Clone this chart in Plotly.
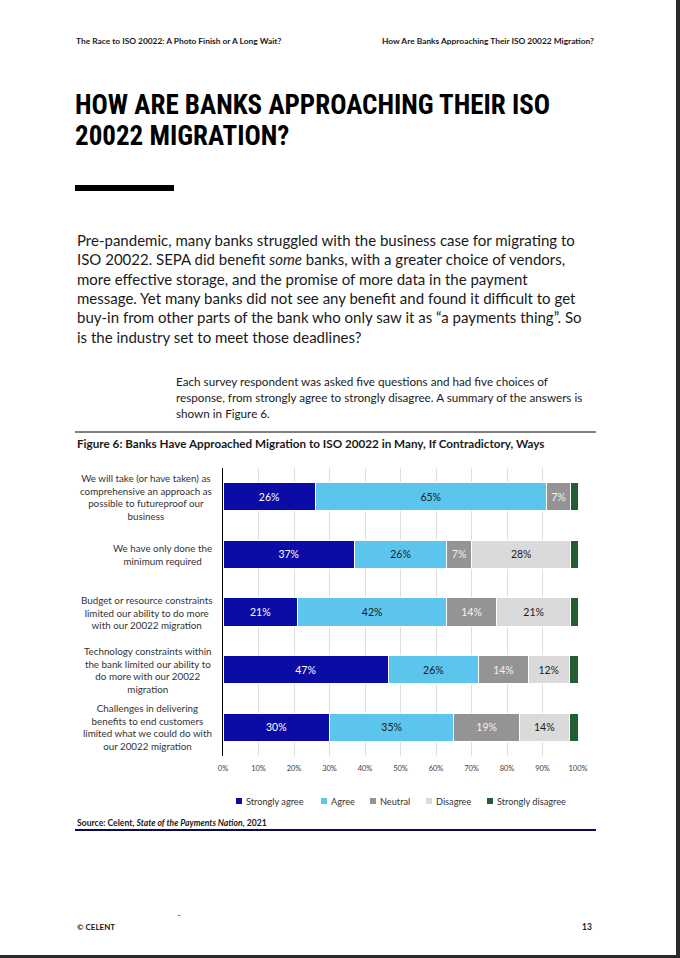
import plotly.graph_objects as go

# ---------------- data ----------------
categories = [
    "We will take (or have taken) as<br>comprehensive an approach as<br>possible to futureproof our<br>business",
    "We have only done the<br>minimum required",
    "Budget or resource constraints<br>limited our ability to do more<br>with our 20022 migration",
    "Technology constraints within<br>the bank limited our ability to<br>do more with our 20022<br>migration",
    "Challenges in delivering<br>benefits to end customers<br>limited what we could do with<br>our 20022 migration",
]
strongly_agree = [26, 37, 21, 46.5, 30]
agree = [65, 26, 42, 25.5, 35]
neutral = [7, 7, 14, 14, 18.5]
disagree = [0, 28, 21, 11.5, 14]
strongly_disagree = [2, 2, 2, 2.5, 2.5]

series_names = ["Strongly agree", "Agree", "Neutral", "Disagree", "Strongly disagree"]
series_values = [strongly_agree, agree, neutral, disagree, strongly_disagree]
series_colors = ["#0b0ba6", "#5bc5ee", "#949494", "#dadada", "#245c34"]
label_colors = ["#ffffff", "#1a1a1a", "#f2f2f2", "#1a1a1a", None]

x_tickvals = list(range(0, 101, 10))
x_ticktext = [f"{v}%" for v in x_tickvals]

header_left = "The Race to ISO 20022: A Photo Finish or A Long Wait?"
header_right = "How Are Banks Approaching Their ISO 20022 Migration?"
title_lines = ["HOW ARE BANKS APPROACHING THEIR ISO", "20022 MIGRATION?"]
para_lines = [
    "Pre-pandemic, many banks struggled with the business case for migrating to",
    "ISO 20022. SEPA did benefit <i>some</i> banks, with a greater choice of vendors,",
    "more effective storage, and the promise of more data in the payment",
    "message. Yet many banks did not see any benefit and found it difficult to get",
    "buy-in from other parts of the bank who only saw it as \u201ca payments thing\u201d. So",
    "is the industry set to meet those deadlines?",
]
intro_lines = [
    "Each survey respondent was asked five questions and had five choices of",
    "response, from strongly agree to strongly disagree. A summary of the answers is",
    "shown in Figure 6.",
]
fig_title = "Figure 6: Banks Have Approached Migration to ISO 20022 in Many, If Contradictory, Ways"
source_text = "Source: Celent, <i>State of the Payments Nation</i>, 2021"

# ---------------- geometry helpers (page pixels) ----------------
W, H = 680, 958
PLOT_X0, PLOT_X1, PLOT_Y0, PLOT_Y1 = 223, 578, 468, 756
L, R, T, B = PLOT_X0, W - PLOT_X1, PLOT_Y0, H - PLOT_Y1
PW, PH = W - L - R, H - T - B


def px(x):
    return (x - L) / PW


def py(y):
    return (H - B - y) / PH


BODY = "Lato, 'Open Sans', sans-serif"
TITLE_FONT = "'Roboto Condensed', 'Liberation Sans', sans-serif"

fig = go.Figure()

for name, vals, col, lc in zip(series_names, series_values, series_colors, label_colors):
    if lc is None:
        tt = ["" for _ in vals]
    else:
        tt = ["%{x:.0f}%" if v > 0 else "" for v in vals]
    fig.add_trace(go.Bar(
        y=categories, x=vals, name=name, orientation="h",
        marker=dict(color=col, line=dict(color="#ffffff", width=1)),
        texttemplate=tt, textposition="inside", insidetextanchor="middle",
        textangle=0, constraintext="none",
        textfont=dict(family=BODY, size=10.5, color=lc or "#ffffff"),
        showlegend=False, hoverinfo="name+x",
    ))

annotations = []
shapes = []


def txt(x, y, s, size, color="#1a1a1a", family=BODY, xanchor="left", yanchor="middle", align="left"):
    annotations.append(dict(
        x=px(x), y=py(y), xref="paper", yref="paper", text=s, showarrow=False,
        xanchor=xanchor, yanchor=yanchor, align=align,
        font=dict(family=family, size=size, color=color),
    ))


# header
txt(74, 41, f"<b>{header_left}</b>", 8.4)
txt(596, 41, f"<b>{header_right}</b>", 8.4, xanchor="right")

# title
for i, line in enumerate(title_lines):
    txt(73, 105 + i * 31, f"<b>{line}</b>", 27, color="#000000", family=TITLE_FONT)

# black rule
shapes.append(dict(type="rect", xref="paper", yref="paper", x0=px(75), x1=px(174),
                   y0=py(191), y1=py(185), fillcolor="#000000", line=dict(width=0)))

# paragraph
for i, line in enumerate(para_lines):
    txt(75, 240 + i * 19.3, line, 15)

# intro text
for i, line in enumerate(intro_lines):
    txt(174, 381 + i * 16, line, 11.7)

# line above figure title
shapes.append(dict(type="line", xref="paper", yref="paper", x0=px(75), x1=px(596),
                   y0=py(432), y1=py(432), line=dict(color="#000000", width=1)))
txt(75, 443, f"<b>{fig_title}</b>", 11.7)

# category labels
for c in categories:
    annotations.append(dict(
        x=px(214), y=c, xref="paper", yref="y", text=c, showarrow=False,
        xanchor="right", yanchor="middle", align="center",
        font=dict(family=BODY, size=9.8, color="#333333"),
    ))

# legend (manual)
legend_x = [236, 321, 370, 426, 487]
for xpos, name, col in zip(legend_x, series_names, series_colors):
    shapes.append(dict(type="rect", xref="paper", yref="paper", x0=px(xpos), x1=px(xpos + 6),
                       y0=py(804), y1=py(798), fillcolor=col, line=dict(width=0)))
    txt(xpos + 8, 801, name, 9.2, color="#333333")

# source
txt(75, 823, f"<b>{source_text}</b>", 8.6)
shapes.append(dict(type="line", xref="paper", yref="paper", x0=px(75), x1=px(596),
                   y0=py(830), y1=py(830), line=dict(color="#0a0a50", width=2)))

# footer
txt(75, 927, "<b>\u00a9 CELENT</b>", 8)
txt(594, 927, "<b>13</b>", 8.5, xanchor="right")
txt(175, 915, "\u2013", 7)

# page frame (right and bottom dark edges)
shapes.append(dict(type="rect", xref="paper", yref="paper", x0=px(676), x1=px(680),
                   y0=py(958), y1=py(0), fillcolor="#2a2a2a", line=dict(width=0)))
shapes.append(dict(type="rect", xref="paper", yref="paper", x0=px(0), x1=px(680),
                   y0=py(958), y1=py(955), fillcolor="#2a2a2a", line=dict(width=0)))

fig.update_layout(
    width=W, height=H, autosize=False,
    margin=dict(l=L, r=R, t=T, b=B, pad=0),
    paper_bgcolor="#ffffff", plot_bgcolor="#ffffff",
    barmode="stack", bargap=0.51,
    annotations=annotations, shapes=shapes,
    xaxis=dict(range=[0, 100], tickvals=x_tickvals, ticktext=x_ticktext,
               showgrid=True, gridcolor="#dedede", gridwidth=1, zeroline=False,
               showline=False, ticks="", ticklabelstandoff=6,
               tickfont=dict(family=BODY, size=7.5, color="#404040"), fixedrange=True),
    yaxis=dict(categoryorder="array", categoryarray=categories, autorange="reversed",
               showticklabels=False, showgrid=False, zeroline=False,
               showline=True, linecolor="#000000", linewidth=1.3, ticks="", fixedrange=True),
    font=dict(family=BODY),
    showlegend=False,
)

fig.write_html(
    "out.html",
    config={"displayModeBar": False},
    post_script="document.body.style.margin='0';document.body.style.overflow='hidden';",
)
